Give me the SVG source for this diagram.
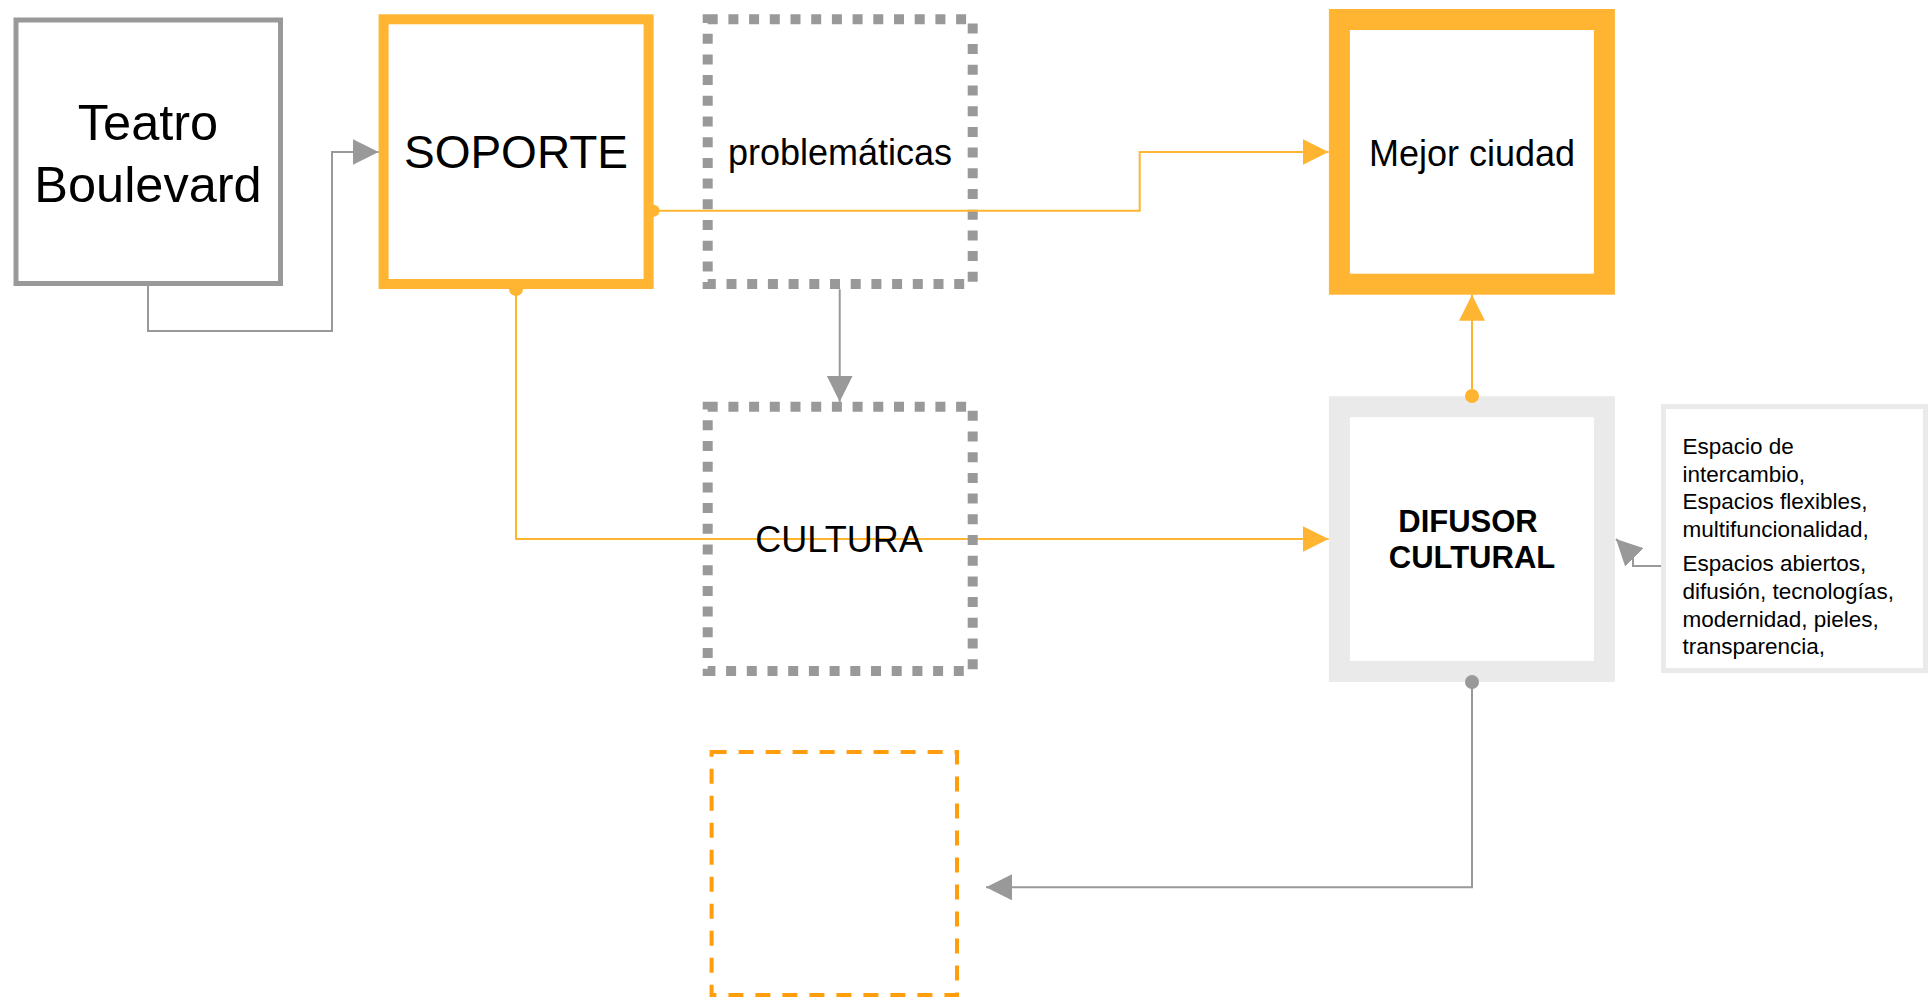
<svg xmlns="http://www.w3.org/2000/svg" width="1930" height="997" viewBox="0 0 1930 997">
<defs>
<style>
text { font-family: "Liberation Sans", Arial, sans-serif; fill: #000; }
.c { text-anchor: middle; }
.conn { fill: none; stroke-width: 2; }
.og { stroke: #FFB432; }
.gy { stroke: #999999; }
.dotted { fill: none; stroke: #999999; stroke-width: 10; stroke-dasharray: 10 10.7; }
.side { font-size: 22.5px; }
</style>
<marker id="ao" markerUnits="userSpaceOnUse" viewBox="0 0 26 26" markerWidth="26" markerHeight="26" refX="26" refY="13" orient="auto"><path d="M0,0 L26,13 L0,26 z" fill="#FFB432"/></marker>
<marker id="ag" markerUnits="userSpaceOnUse" viewBox="0 0 26 26" markerWidth="26" markerHeight="26" refX="26" refY="13" orient="auto"><path d="M0,0 L26,13 L0,26 z" fill="#999999"/></marker>
</defs>
<rect x="0" y="0" width="1930" height="997" fill="#fff"/>

<g id="teatro">
<rect x="16" y="20" width="264.5" height="263.5" fill="#fff" stroke="#999999" stroke-width="5"/>
<text class="c" x="148" y="140" font-size="50.5">Teatro</text>
<text class="c" x="148" y="202" font-size="50.5">Boulevard</text>
</g>

<g id="soporte">
<rect x="383.6" y="19.3" width="265" height="264.7" fill="#fff" stroke="#FFB432" stroke-width="10"/>
<text class="c" x="516" y="168" font-size="46">SOPORTE</text>
</g>

<g id="problematicas">
<rect class="dotted" x="707.7" y="19.3" width="265" height="264.7"/>
<text class="c" x="840" y="165" font-size="36">problemáticas</text>
</g>

<g id="mejor">
<rect x="1339.4" y="19.5" width="265" height="264.7" fill="#fff" stroke="#FFB432" stroke-width="21"/>
<text class="c" x="1472" y="165.7" font-size="36">Mejor ciudad</text>
</g>

<g id="difusor">
<rect x="1339.4" y="406.7" width="265" height="264.7" fill="#fff" stroke="#EAEAEA" stroke-width="21"/>
<text class="c" x="1468" y="531.7" font-size="31" font-weight="bold">DIFUSOR</text>
<text class="c" x="1472" y="568.3" font-size="31" font-weight="bold">CULTURAL</text>
</g>

<g id="caracteristicas">
<rect x="1663.5" y="406.5" width="262" height="264" fill="#fff" stroke="#EAEAEA" stroke-width="5"/>
<text class="side" x="1682.5" y="454">Espacio de</text>
<text class="side" x="1682.5" y="481.7">intercambio,</text>
<text class="side" x="1682.5" y="509.3">Espacios flexibles,</text>
<text class="side" x="1682.5" y="536.7">multifuncionalidad,</text>
<text class="side" x="1682.5" y="571">Espacios abiertos,</text>
<text class="side" x="1682.5" y="598.7">difusión, tecnologías,</text>
<text class="side" x="1682.5" y="626.7">modernidad, pieles,</text>
<text class="side" x="1682.5" y="654">transparencia,</text>
</g>

<g id="vacio">
<rect x="711.6" y="752" width="245.4" height="243" fill="#fff" stroke="#FF9D0D" stroke-width="4" stroke-dasharray="15 12"/>
</g>

<g id="connectors">
<path class="conn gy" d="M148,286 V331 H332 V152 H378.6" marker-end="url(#ag)"/>
<path class="conn og" d="M653.6,210.7 H1139.7 V152 H1328.6" marker-end="url(#ao)"/>
<circle cx="653.6" cy="210.7" r="6" fill="#FFB432"/>
<path class="conn og" d="M516,289 V539 H1328.6" marker-end="url(#ao)"/>
<circle cx="516" cy="289" r="7" fill="#FFB432"/>
<path class="conn gy" d="M839.7,289.3 V401.7" marker-end="url(#ag)"/>
<path class="conn og" d="M1472,396 V294.7" marker-end="url(#ao)"/>
<circle cx="1472" cy="396" r="7" fill="#FFB432"/>
<path class="conn gy" d="M1472,682 V887.3 H986" marker-end="url(#ag)"/>
<circle cx="1472" cy="682" r="7" fill="#999999"/>
<path class="conn gy" d="M1661,566 H1633 V556 L1616,539" marker-end="url(#ag)"/>
</g>

<g id="cultura">
<rect class="dotted" x="707.7" y="406.7" width="265" height="264.3"/>
<text class="c" x="839" y="552.3" font-size="36">CULTURA</text>
</g>
</svg>
